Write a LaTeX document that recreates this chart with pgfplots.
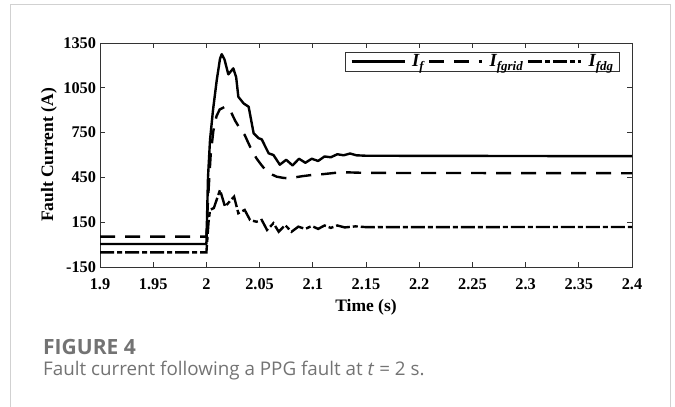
\documentclass[border=0pt]{standalone}
\usepackage{fontspec}
\setmainfont{Liberation Serif}
\newfontfamily\capfont{Open Sans}
\usepackage{pgfplots}
\pgfplotsset{compat=1.18}
\begin{document}
\begin{tikzpicture}[x=1pt,y=1pt]
\useasboundingbox (0,0) rectangle (675,407);
\draw[black!18, line width=1pt] (10,-5) -- (10,402) -- (670,402) -- (670,-5);
\begin{axis}[
  at={(100pt,140pt)}, anchor=south west,
  scale only axis, width=532pt, height=224pt,
  xmin=1.9, xmax=2.4, ymin=-150, ymax=1350,
  xtick={1.9,1.95,2,2.05,2.1,2.15,2.2,2.25,2.3,2.35,2.4},
  xticklabels={1.9,1.95,2,2.05,2.1,2.15,2.2,2.25,2.3,2.35,2.4},
  ytick={-150,150,450,750,1050,1350},
  yticklabels={-150,150,450,750,1050,1350},
  tick align=inside, major tick length=5pt,
  axis line style={black!80, line width=0.7pt},
  every tick/.style={black!80, line width=0.7pt},
  /pgf/number format/assume math mode=true,
  ticklabel style={font=\fontsize{16.3}{19}\selectfont\bfseries},
  xticklabel style={yshift=-8.5pt},
  yticklabel style={xshift=-0.5pt},
  xlabel={Time (s)}, ylabel={Fault Current (A)},
  label style={font=\fontsize{17.5}{20}\selectfont\bfseries},
  xlabel style={at={(axis description cs:0.5,-0.2)}, anchor=base},
  ylabel style={at={(axis description cs:-0.096,0.5)}, anchor=center},
  legend columns=3,
  legend style={at={(axis description cs:0.4605,0.9598)}, anchor=north west,
    draw=black!80, line width=0.7pt, fill=white,
    inner xsep=5pt, inner ysep=2pt,
    font=\fontsize{18.5}{21}\selectfont\bfseries\itshape,
    /tikz/every even column/.style={column sep=3pt},
    /tikz/every odd column/.style={column sep=6pt},
    nodes={inner sep=0.5pt}},
  legend image code/.code={\draw[#1] (0pt,0pt) -- (53pt,0pt);},
]
\addplot[black, line width=2.4pt, line join=round] coordinates {
(1.9,4) (2.0,4) (2.0015,450) (2.0034,700) (2.0062,900) (2.0097,1100)
(2.0128,1245) (2.0144,1275) (2.017,1240) (2.0206,1140) (2.0253,1180)
(2.028,1120) (2.030,990) (2.0349,946) (2.0397,923) (2.0444,745)
(2.0491,712) (2.052,705) (2.0585,611) (2.063,600) (2.069,535)
(2.075,568) (2.081,530) (2.087,575) (2.093,548) (2.099,575)
(2.105,560) (2.111,590) (2.117,585) (2.123,605) (2.129,598)
(2.135,610) (2.141,598) (2.15,595) (2.4,592)};
\addlegendentry{I\textsubscript{f}}
\addplot[black, line width=2.4pt, dash pattern=on 15pt off 10pt] coordinates {
(1.9,53) (2.0,53) (2.0015,300) (2.004,600) (2.0065,760) (2.0095,860)
(2.0125,905) (2.0175,923) (2.022,905) (2.027,830) (2.032,770)
(2.036,734) (2.041,656) (2.047,578) (2.052,530) (2.057,488)
(2.062,468) (2.066,455) (2.072,447) (2.077,444) (2.083,450)
(2.09,458) (2.099,466) (2.11,472) (2.127,485) (2.15,480) (2.4,478)};
\addlegendentry{I\textsubscript{fgrid}}
\addplot[black, line width=2.4pt, dash pattern=on 14pt off 3pt on 5pt off 3pt] coordinates {
(1.9,-52) (2.0,-52) (2.001,50) (2.002,150) (2.0034,232) (2.007,245)
(2.0128,366) (2.0175,254) (2.022,290) (2.026,321) (2.030,210)
(2.036,232) (2.041,165) (2.047,153) (2.052,165) (2.057,98)
(2.063,143) (2.068,86) (2.074,131) (2.080,86) (2.0864,120)
(2.093,105) (2.099,125) (2.105,105) (2.111,128) (2.117,112)
(2.123,128) (2.13,115) (2.14,122) (2.15,117) (2.4,118)};
\addlegendentry{I\textsubscript{fdg}}
\end{axis}
\node[anchor=base west, inner sep=0pt, text=black!55] at (43,52)
  {\capfont\bfseries\fontsize{21}{24}\selectfont FIGURE 4};
\node[anchor=base west, inner sep=0pt, text=black!55] at (43,31.5)
  {\capfont\fontsize{18.8}{22}\selectfont Fault current following a PPG fault at \textit{t} = 2 s.};
\end{tikzpicture}
\end{document}
